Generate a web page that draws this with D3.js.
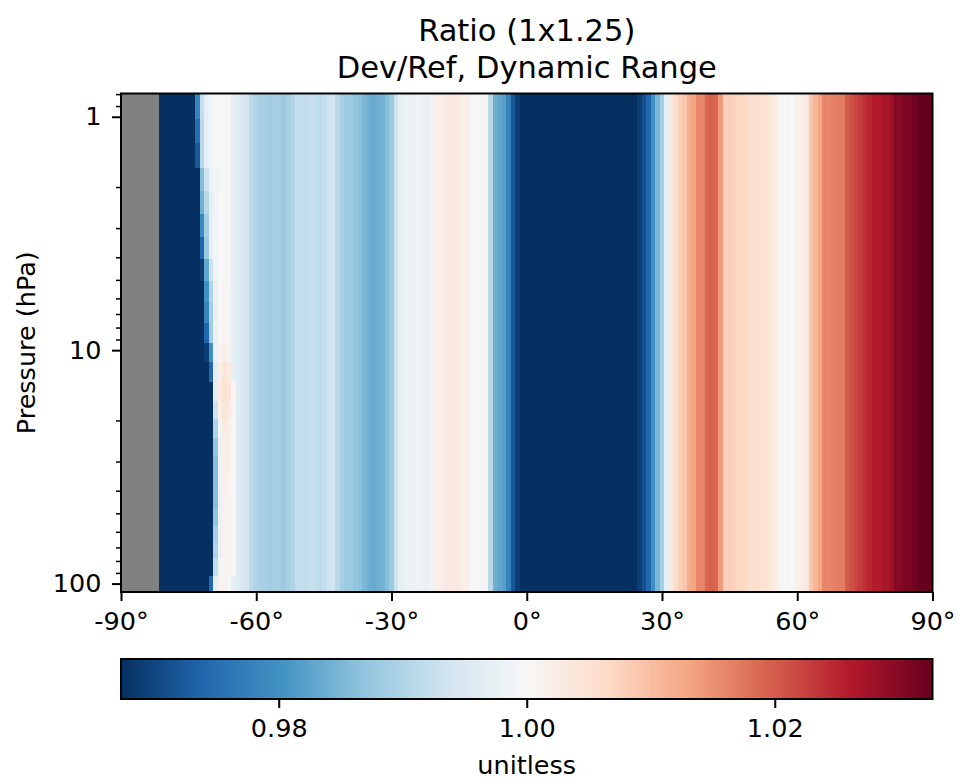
<!DOCTYPE html>
<html>
<head>
<meta charset="utf-8">
<script src="https://cdn.jsdelivr.net/npm/d3@7"></script>
<style>
  body { margin: 0; background: #fff; }
  svg { font-family: "DejaVu Sans", sans-serif; }
</style>
</head>
<body>
<svg id="chart"></svg>
<script>
// latitude cell centres, 1 deg (half cells at the poles)
var lats = d3.range(-90, 91);

// level edges in hPa, top to bottom
var pressureEdges = [0.7951, 1.0194, 1.3005, 1.6508, 2.085, 2.6202, 3.2764, 4.0766, 5.0468,
  6.2168, 7.6198, 9.2929, 11.2769, 13.6434, 16.4571, 19.7916, 23.7304, 28.3678, 33.81,
  40.1754, 47.6439, 56.3879, 66.6034, 78.5123, 92.3657, 108.663];

// dev/ref ratio per latitude (same at all levels), null = no data
var zonalRatio = [
  null, null, null, null, null, null, null, null, null, 0.962,        // -90..-81
  0.962, 0.962, 0.962, 0.962, 0.962, 0.962, 0.962, 0.975, 0.990, 0.997, // -80..-71
  0.999, 0.9995, 0.9995, 1.000, 0.9995, 0.997, 0.996, 0.995, 0.994, 0.991, // -70..-61
  0.990, 0.989, 0.989, 0.9885, 0.989, 0.989, 0.988, 0.989, 0.990, 0.992, // -60..-51
  0.992, 0.992, 0.9925, 0.992, 0.9915, 0.992, 0.993, 0.994, 0.991, 0.989, // -50..-41
  0.988, 0.988, 0.987, 0.9865, 0.985, 0.984, 0.9835, 0.984, 0.9845, 0.986, // -40..-31
  0.988, 0.993, 0.997, 0.998, 0.998, 0.998, 0.9985, 0.998, 0.998, 0.999, // -30..-21
  1.002, 1.002, 1.003, 1.003, 1.003, 1.003, 1.002, 1.002, 1.000, 0.9995, // -20..-11
  0.9995, 0.9995, 0.991, 0.984, 0.983, 0.982, 0.978, 0.972, 0.969, 0.966, // -10..-1
  0.962, 0.962, 0.962, 0.962, 0.962, 0.962, 0.962, 0.962, 0.962, 0.962, // 0..9
  0.962, 0.962, 0.962, 0.962, 0.962, 0.962, 0.962, 0.962, 0.962, 0.962, // 10..19
  0.962, 0.962, 0.962, 0.962, 0.962, 0.969, 0.971, 0.974, 0.980, 0.985, // 20..29
  0.989, 0.997, 1.003, 1.006, 1.008, 1.009, 1.012, 1.013, 1.016, 1.016, // 30..39
  1.019, 1.0195, 1.019, 1.014, 1.008, 1.008, 1.0075, 1.007, 1.007, 1.006, // 40..49
  1.006, 1.0055, 1.005, 1.005, 1.004, 1.003, 1.0005, 1.000, 0.9995, 1.000, // 50..59
  1.002, 1.002, 1.003, 1.009, 1.011, 1.013, 1.016, 1.016, 1.0165, 1.017, // 60..69
  1.017, 1.020, 1.021, 1.022, 1.023, 1.024, 1.025, 1.026, 1.026, 1.027, // 70..79
  1.027, 1.028, 1.030, 1.030, 1.031, 1.031, 1.032, 1.033, 1.034, 1.035, // 80..89
  1.035                                                                 // 90
];

// ratio inside the southern polar band (poleward of the rim)
var polarRatio = 0.962;
// per level: latitude where the polar band ends, and the 5 cells from there
var rimLat = [-73, -73, -73, -72, -72, -72, -72, -72, -71, -71, -71, -71, -70,
  -69, -69, -69, -69, -69, -69, -69, -69, -69, -69, -69, -70];
var rimRatio = [
  [0.978, 0.992, 0.997, 0.999, 0.9995],
  [0.975, 0.991, 0.997, 0.999, 0.9995],
  [0.972, 0.991, 0.997, 0.999, 0.9995],
  [0.986, 0.993, 0.998, 0.999, 0.9995],
  [0.984, 0.991, 0.997, 0.999, 1.000],
  [0.979, 0.989, 0.997, 0.999, 1.000],
  [0.974, 0.988, 0.997, 0.999, 1.000],
  [0.969, 0.983, 0.993, 0.999, 1.000],
  [0.980, 0.990, 0.998, 1.000, 1.001],
  [0.978, 0.989, 0.998, 1.000, 1.001],
  [0.974, 0.988, 0.998, 1.000, 1.001],
  [0.969, 0.980, 0.998, 1.001, 1.002],
  [0.974, 0.997, 1.002, 1.004, 1.003],
  [0.997, 1.003, 1.005, 1.004, 1.001],
  [0.993, 1.002, 1.004, 1.003, 1.001],
  [0.990, 0.999, 1.003, 1.002, 1.000],
  [0.987, 0.998, 1.002, 1.002, 1.000],
  [0.986, 0.998, 1.002, 1.002, 1.000],
  [0.986, 0.998, 1.002, 1.001, 1.000],
  [0.986, 0.998, 1.001, 1.001, 1.000],
  [0.987, 0.998, 1.001, 1.001, 1.000],
  [0.989, 0.998, 1.001, 1.001, 1.000],
  [0.990, 0.998, 1.001, 1.001, 1.000],
  [0.992, 0.999, 1.001, 1.001, 1.000],
  [0.974, 0.997, 1.001, 1.001, 1.000]
];

var xTicks = [-90, -60, -30, 0, 30, 60, 90];
var yTicks = [1, 10, 100];
var yMinorTicks = [0.8, 0.9, 2, 3, 4, 5, 6, 7, 8, 9, 20, 30, 40, 50, 60, 70, 80, 90];
var cbTicks = [0.98, 1.00, 1.02];
var vmin = 0.96728, vmax = 1.03272;

// RdBu reversed (low = blue)
var rdbuR = ['#053061', '#2166ac', '#4393c3', '#92c5de', '#d1e5f0', '#f7f7f7',
  '#fddbc7', '#f4a582', '#d6604d', '#b2182b', '#67001f'];

var width = 957, height = 779;
var plot = {left: 121, right: 932.5, top: 93.5, bottom: 592};
var cbar = {top: 659, bottom: 699};
var fontSize = 25.5;

var svg = d3.select('#chart').attr('width', width).attr('height', height);

var xScale = d3.scaleLinear().domain([-90, 90]).range([plot.left, plot.right]);
var yScale = d3.scaleLog()
  .domain([pressureEdges[0], pressureEdges[pressureEdges.length - 1]])
  .range([plot.top, plot.bottom]);
var color = d3.scaleLinear()
  .domain(d3.range(11).map(i => vmin + (vmax - vmin) * i / 10))
  .range(rdbuR)
  .clamp(true);

// build the grid cells
var cells = [];
pressureEdges.slice(0, -1).forEach(function(pTop, i) {
  var pBot = pressureEdges[i + 1];
  lats.forEach(function(lat, j) {
    var v = zonalRatio[j];
    if (v !== null) {
      var k = lat - rimLat[i];
      if (k < 0) v = polarRatio;
      else if (k < rimRatio[i].length) v = rimRatio[i][k];
    }
    cells.push({lat0: Math.max(-90, lat - 0.5), lat1: Math.min(90, lat + 0.5), pTop: pTop, pBot: pBot, v: v});
  });
});

svg.append('g')
  .selectAll('rect')
  .data(cells)
  .enter()
  .append('rect')
    .attr('x', d => xScale(d.lat0))
    .attr('y', d => yScale(d.pTop))
    .attr('width', d => xScale(d.lat1) - xScale(d.lat0))
    .attr('height', d => yScale(d.pBot) - yScale(d.pTop))
    .attr('shape-rendering', 'crispEdges')
    .style('fill', d => d.v === null ? '#808080' : color(d.v));

// axes
function styleAxis(g) {
  g.select('.domain').remove();
  g.selectAll('.tick line').attr('stroke', '#000').attr('stroke-width', 2);
  g.selectAll('.tick text').attr('fill', '#000').style('font-size', fontSize + 'px')
    .style('font-family', '"DejaVu Sans", sans-serif');
}

svg.append('g')
  .attr('transform', 'translate(0,' + plot.bottom + ')')
  .call(d3.axisBottom(xScale).tickValues(xTicks).tickSize(9).tickPadding(11)
    .tickFormat(d => d + '°'))
  .call(styleAxis);

svg.append('g')
  .attr('transform', 'translate(' + plot.left + ',0)')
  .call(d3.axisLeft(yScale).tickValues(yMinorTicks).tickSize(5).tickFormat(''))
  .call(styleAxis)
  .selectAll('.tick line').attr('stroke-width', 1.5);

svg.append('g')
  .attr('transform', 'translate(' + plot.left + ',0)')
  .call(d3.axisLeft(yScale).tickValues(yTicks).tickSize(9).tickPadding(10.5)
    .tickFormat(d3.format('d')))
  .call(styleAxis);

// frame
svg.append('rect')
  .attr('x', plot.left).attr('y', plot.top)
  .attr('width', plot.right - plot.left).attr('height', plot.bottom - plot.top)
  .style('fill', 'none').style('stroke', '#000').style('stroke-width', 2);

// y label
svg.append('text')
  .attr('transform', 'translate(35,' + ((plot.top + plot.bottom) / 2) + ') rotate(-90)')
  .attr('text-anchor', 'middle')
  .style('font-size', fontSize + 'px')
  .text('Pressure (hPa)');

// title
var cx = (plot.left + plot.right) / 2;
svg.append('text').attr('x', cx).attr('y', 41).attr('text-anchor', 'middle')
  .style('font-size', '30.5px').text('Ratio (1x1.25)');
svg.append('text').attr('x', cx).attr('y', 77.5).attr('text-anchor', 'middle')
  .style('font-size', '30.5px').text('Dev/Ref, Dynamic Range');

// colorbar
var cbScale = d3.scaleLinear().domain([vmin, vmax]).range([plot.left, plot.right]);
var grad = svg.append('defs').append('linearGradient').attr('id', 'cbgrad');
rdbuR.forEach(function(c, i) {
  grad.append('stop').attr('offset', (i * 10) + '%').attr('stop-color', c);
});
svg.append('rect')
  .attr('x', plot.left).attr('y', cbar.top)
  .attr('width', plot.right - plot.left).attr('height', cbar.bottom - cbar.top)
  .style('fill', 'url(#cbgrad)').style('stroke', '#000').style('stroke-width', 2);

svg.append('g')
  .attr('transform', 'translate(0,' + cbar.bottom + ')')
  .call(d3.axisBottom(cbScale).tickValues(cbTicks).tickSize(9).tickPadding(11)
    .tickFormat(d3.format('.2f')))
  .call(styleAxis);

svg.append('text').attr('x', cx).attr('y', 774).attr('text-anchor', 'middle')
  .style('font-size', fontSize + 'px').text('unitless');
</script>
</body>
</html>
